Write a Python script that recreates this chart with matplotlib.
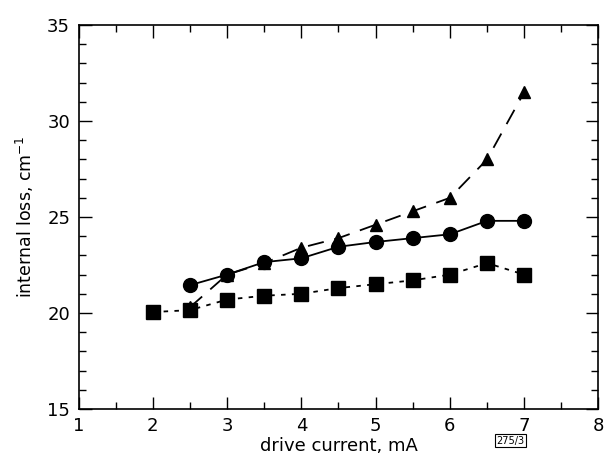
import matplotlib
matplotlib.use("Agg")
import matplotlib.pyplot as plt
from matplotlib.ticker import MultipleLocator

plt.rcParams['font.family'] = ['DejaVu Sans']

x_squares = [2, 2.5, 3, 3.5, 4, 4.5, 5, 5.5, 6, 6.5, 7]
y_squares = [20.05, 20.15, 20.7, 20.9, 21.0, 21.3, 21.5, 21.7, 22.0, 22.6, 22.0]

x_circles = [2.5, 3, 3.5, 4, 4.5, 5, 5.5, 6, 6.5, 7]
y_circles = [21.45, 22.0, 22.65, 22.85, 23.45, 23.7, 23.9, 24.1, 24.8, 24.8]

x_triangles = [2.5, 3, 3.5, 4, 4.5, 5, 5.5, 6, 6.5, 7]
y_triangles = [20.3, 22.0, 22.6, 23.4, 23.9, 24.6, 25.3, 26.0, 28.0, 31.5]

x_ticks = [1, 2, 3, 4, 5, 6, 7, 8]
y_ticks = [15, 20, 25, 30, 35]

fig = plt.figure(figsize=(6.11, 4.63), dpi=100)
ax = fig.add_axes([0.1285, 0.1166, 0.851, 0.8294])

ax.plot(x_triangles, y_triangles, color='black', linestyle=(0, (9, 6)), linewidth=1.3,
        marker='^', markersize=9, zorder=2)
ax.plot(x_circles, y_circles, color='black', linestyle='-', linewidth=1.3,
        marker='o', markersize=10, zorder=3)
ax.plot(x_squares, y_squares, color='black', linestyle=(0, (2.5, 3.5)), linewidth=1.3,
        marker='s', markersize=10.5, zorder=3)

ax.set_xlim(1, 8)
ax.set_ylim(15, 35)
ax.set_xticks(x_ticks)
ax.set_yticks(y_ticks)
ax.xaxis.set_minor_locator(MultipleLocator(0.5))
ax.yaxis.set_minor_locator(MultipleLocator(1))
ax.tick_params(which='both', direction='in', top=True, right=True, labelsize=13, pad=6)
ax.tick_params(which='major', length=9, width=1)
ax.tick_params(which='minor', length=5, width=1)
for s in ax.spines.values():
    s.set_linewidth(1.2)

ax.set_xlabel('drive current, mA', fontsize=13, labelpad=1)
ax.set_ylabel('internal loss, cm$^{-1}$', fontsize=12.5, labelpad=8)

fig.text(0.835, 0.048, '275/3', fontsize=7, ha='center', va='center',
         bbox=dict(boxstyle='square,pad=0.15', facecolor='white', edgecolor='black', linewidth=0.8))

fig.savefig('out.png', dpi=100)
